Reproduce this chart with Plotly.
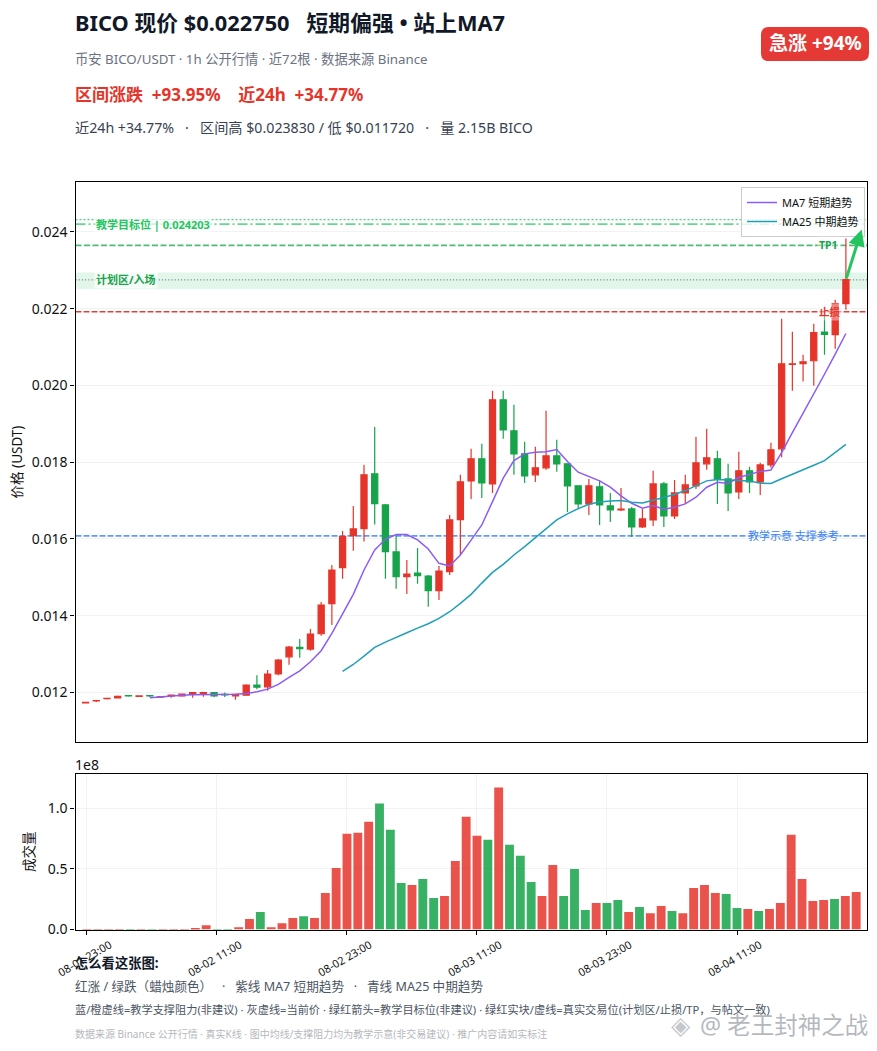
# BICO/USDT 1h candles with MA7, MA25, volume and teaching levels
import plotly.graph_objects as go

# page body keeps its default 8px margin
OFFSET = 8
W = 869
H = 1035

FONT = "Noto Sans, Noto Sans CJK SC, sans-serif"

# candle index 0..71, hourly from 08-01 23:00
candle_index = list(range(72))
opens = [
    0.01173, 0.01178, 0.01184, 0.01186, 0.01192, 0.01190, 0.01192, 0.01188, 0.01191, 0.01191,
    0.011948, 0.011974, 0.01200, 0.01195, 0.011913, 0.01193, 0.012191, 0.012148, 0.012487, 0.01293,
    0.013174, 0.01313, 0.01353, 0.014313, 0.015252, 0.016087, 0.01627, 0.017696, 0.016887, 0.015661,
    0.015017, 0.015113, 0.015035, 0.014652, 0.015148, 0.016504, 0.017513, 0.018087, 0.017435, 0.019626,
    0.018817, 0.018217, 0.01767, 0.017852, 0.018165, 0.017957, 0.017383, 0.016913, 0.017357, 0.016861,
    0.016757, 0.016783, 0.016313, 0.016496, 0.017435, 0.0166, 0.0172, 0.017383, 0.017957, 0.018087,
    0.017565, 0.017226, 0.017774, 0.017487, 0.01793, 0.018348, 0.02055, 0.02057, 0.020643, 0.02139,
    0.021322, 0.02213,
]
closes = [
    0.01174, 0.01179, 0.01185, 0.01190, 0.01191, 0.01191, 0.01191, 0.01189, 0.01193, 0.011955,
    0.01200, 0.01200, 0.011913, 0.01194, 0.01195, 0.012191, 0.012139, 0.012478, 0.012843, 0.013183,
    0.013139, 0.013522, 0.014278, 0.015191, 0.016061, 0.016261, 0.01767, 0.016922, 0.01567, 0.015017,
    0.015087, 0.015044, 0.014652, 0.015165, 0.016496, 0.017487, 0.018087, 0.017461, 0.019626, 0.018843,
    0.018217, 0.017643, 0.017852, 0.018165, 0.017957, 0.017383, 0.016913, 0.017383, 0.016887, 0.016757,
    0.01678, 0.016313, 0.016522, 0.017435, 0.0166, 0.0172, 0.017409, 0.017983, 0.018113, 0.017565,
    0.0172, 0.017774, 0.017487, 0.01793, 0.018322, 0.020565, 0.020565, 0.020617, 0.021374, 0.02133,
    0.02213, 0.022757,
]
highs = [
    0.01175, 0.0118, 0.01186, 0.01192, 0.01192, 0.01192, 0.01192, 0.0119, 0.01195, 0.01197,
    0.0120, 0.01202, 0.01201, 0.0120, 0.01197, 0.012217, 0.012452, 0.012583, 0.01287, 0.013209,
    0.013391, 0.013652, 0.014357, 0.015322, 0.016209, 0.016861, 0.017931, 0.01892, 0.016913, 0.016087,
    0.015452, 0.015765, 0.015061, 0.015296, 0.016626, 0.01767, 0.018348, 0.018478, 0.019861, 0.019861,
    0.019496, 0.01853, 0.0184, 0.019339, 0.018583, 0.017957, 0.017383, 0.017565, 0.017539, 0.0172,
    0.01733, 0.016835, 0.016783, 0.017774, 0.017487, 0.017539, 0.01767, 0.018661, 0.01887, 0.018296,
    0.017957, 0.01827, 0.017878, 0.017983, 0.018504, 0.021739, 0.0214, 0.0208, 0.021609, 0.021843,
    0.022235, 0.02383,
]
lows = [
    0.01172, 0.01175, 0.01182, 0.01185, 0.01189, 0.0119, 0.01188, 0.01187, 0.01186, 0.01189,
    0.011861, 0.01189, 0.01188, 0.01188, 0.01181, 0.011913, 0.012087, 0.012043, 0.012452, 0.012722,
    0.012904, 0.013087, 0.013478, 0.013757, 0.014965, 0.015696, 0.015931, 0.016374, 0.014965, 0.014704,
    0.014565, 0.014835, 0.014235, 0.014409, 0.015061, 0.015583, 0.017043, 0.01707, 0.0172, 0.018609,
    0.01767, 0.017461, 0.017487, 0.0178, 0.017748, 0.016704, 0.016774, 0.016626, 0.016365, 0.016443,
    0.01673, 0.016052, 0.016287, 0.016339, 0.016313, 0.016522, 0.016913, 0.017304, 0.0178, 0.016913,
    0.01673, 0.017043, 0.0172, 0.017148, 0.017852, 0.01813, 0.019861, 0.020104, 0.019991, 0.0208,
    0.020957, 0.021974,
]

# moving averages as drawn, MA7 starts at candle 6, MA25 at candle 24
ma7_index = list(range(6, 72))
ma7 = [
    0.011861, 0.011887, 0.011913, 0.01193, 0.011939, 0.011939, 0.011939, 0.011948, 0.011957, 0.011974,
    0.012017, 0.012087, 0.012209, 0.012391, 0.012565, 0.0128, 0.013087, 0.013539, 0.014061, 0.014557,
    0.015191, 0.015713, 0.015991, 0.016113, 0.016113, 0.015974, 0.015739, 0.015365, 0.015296, 0.015583,
    0.01597, 0.016365, 0.016974, 0.017583, 0.018043, 0.018217, 0.018261, 0.01827, 0.01833, 0.018017,
    0.017739, 0.017626, 0.017513, 0.017348, 0.017122, 0.01693, 0.0168, 0.01687, 0.016774, 0.016826,
    0.016913, 0.017087, 0.017348, 0.017478, 0.017443, 0.0176, 0.01768, 0.01776, 0.017795, 0.018248,
    0.01877, 0.019266, 0.019769, 0.020291, 0.020813, 0.021353,
]
ma25_index = list(range(24, 72))
ma25 = [
    0.012548, 0.01273, 0.012948, 0.013174, 0.013313, 0.013426, 0.013557, 0.013678, 0.013791, 0.01393,
    0.014104, 0.014322, 0.014557, 0.014850, 0.01513, 0.015339, 0.015583, 0.0158, 0.016035, 0.016278,
    0.016496, 0.016652, 0.016791, 0.016904, 0.016965, 0.016991, 0.0170, 0.016957, 0.016939, 0.017009,
    0.017078, 0.017157, 0.017261, 0.017391, 0.017513, 0.017548, 0.017539, 0.017539, 0.017513, 0.017452,
    0.017447, 0.01757, 0.01768, 0.0178, 0.01792, 0.01804, 0.01825, 0.018465,
]

# volume in units of 1e8
volumes = [
    0.0002, 0.0002, 0.0002, 0.0002, 0.0002, 0.0002, 0.0002, 0.0002, 0.0002, 0.0003,
    0.011, 0.036, 0.0005, 0.0005, 0.019, 0.086, 0.144, 0.019, 0.052, 0.094,
    0.11, 0.094, 0.301, 0.508, 0.79, 0.798, 0.889, 1.039, 0.823, 0.384,
    0.367, 0.417, 0.26, 0.276, 0.566, 0.931, 0.773, 0.74, 1.171, 0.699,
    0.608, 0.392, 0.276, 0.533, 0.276, 0.5, 0.16, 0.218, 0.218, 0.243,
    0.144, 0.185, 0.135, 0.193, 0.152, 0.135, 0.343, 0.367, 0.301, 0.293,
    0.177, 0.169, 0.152, 0.169, 0.218, 0.782, 0.417, 0.235, 0.243, 0.251,
    0.276, 0.309,
]

tick_index = [0, 12, 24, 36, 48, 60]
tick_labels = ["08-01 23:00", "08-02 11:00", "08-02 23:00", "08-03 11:00", "08-03 23:00", "08-04 11:00"]
price_ticks = [0.012, 0.014, 0.016, 0.018, 0.020, 0.022, 0.024]
volume_ticks = [0, 0.5, 1.0]

# teaching and trade levels
target_top = 0.02432
target_level = 0.024203
tp1_level = 0.02365
plan_low = 0.022504
plan_high = 0.022939
current_price = 0.02275
stop_level = 0.02192
support_level = 0.01608

RED = "#e5352b"
GREEN = "#16a34a"
NB = "\u00a0"


def px(x):
    return (x - OFFSET) / W


def py(y):
    return 1 - (y - OFFSET) / H


fig = go.Figure()

fig.add_trace(go.Candlestick(
    x=candle_index, open=opens, high=highs, low=lows, close=closes,
    increasing=dict(line=dict(color=RED, width=1.2), fillcolor=RED),
    decreasing=dict(line=dict(color=GREEN, width=1.2), fillcolor=GREEN),
    whiskerwidth=0, showlegend=False, xaxis="x", yaxis="y",
))
fig.add_trace(go.Scatter(
    x=ma7_index, y=ma7, mode="lines", name="MA7 短期趋势",
    line=dict(color="#8b5cf6", width=1.5), xaxis="x", yaxis="y",
))
fig.add_trace(go.Scatter(
    x=ma25_index, y=ma25, mode="lines", name="MA25 中期趋势",
    line=dict(color="#1f9fb8", width=1.5), xaxis="x", yaxis="y",
))
bar_colors = [RED if c >= o else GREEN for o, c in zip(opens, closes)]
fig.add_trace(go.Bar(
    x=candle_index, y=volumes, marker=dict(color=bar_colors, opacity=0.85, line=dict(width=0)),
    width=0.82, showlegend=False, xaxis="x2", yaxis="y2",
))


def level(y, color, dash, width=1.5):
    fig.add_shape(type="line", xref="x domain", yref="y", x0=0, x1=1, y0=y, y1=y,
                  line=dict(color=color, dash=dash, width=width), layer="below")


fig.add_shape(type="rect", xref="x domain", yref="y", x0=0, x1=1, y0=plan_low, y1=plan_high,
              fillcolor="rgba(34,197,94,0.13)", line=dict(width=0), layer="below")
level(target_top, "rgba(34,197,94,0.8)", "2px,2px", 1.3)
level(target_level, "rgba(34,197,94,0.7)", "10px,3px,2px,3px", 1.7)
level(tp1_level, "rgba(22,163,74,0.75)", "6px,2.5px", 1.7)
level(current_price, "#6b7280", "1.2px,2px", 1)
level(stop_level, "rgba(229,53,43,0.95)", "6px,2px", 1.7)
level(support_level, "rgba(59,130,246,0.8)", "6px,2px", 1.7)

# red badge top right, rounded corners
bx0, bx1, by0, by1 = px(761), px(869), py(61), py(27)
rx, ry = 8 / W, 8 / H
fig.add_shape(
    type="path", xref="paper", yref="paper", fillcolor="#e53935", line=dict(width=0),
    path=(f"M {bx0 + rx} {by0} L {bx1 - rx} {by0} Q {bx1} {by0} {bx1} {by0 + ry} "
          f"L {bx1} {by1 - ry} Q {bx1} {by1} {bx1 - rx} {by1} L {bx0 + rx} {by1} "
          f"Q {bx0} {by1} {bx0} {by1 - ry} L {bx0} {by0 + ry} Q {bx0} {by0} {bx0 + rx} {by0} Z"),
)


def page_text(x, y, text, size, color, bold=False, anchor="left", **kw):
    label = f"<b>{text}</b>" if bold else text
    fig.add_annotation(xref="paper", yref="paper", x=px(x - 2), y=py(y), text=label, showarrow=False,
                       xanchor=anchor, yanchor="middle", align="left",
                       font=dict(size=size, color=color, family=FONT), **kw)


def chart_text(x, y, text, color, size=11, bg="rgba(255,255,255,0.7)"):
    fig.add_annotation(xref="x", yref="y", x=x, y=y, text=f"<b>{text}</b>", showarrow=False,
                       xanchor="left", yanchor="middle", bgcolor=bg, borderpad=1,
                       font=dict(size=size, color=color, family=FONT))


chart_text(0.75, target_level, "教学目标位 | 0.024203", "#22c55e")
chart_text(0.75, current_price + 0.00002, "计划区/入场", GREEN)
chart_text(68.3, tp1_level, "TP1", GREEN, size=10.5, bg="rgba(255,255,255,0.4)")
chart_text(68.3, stop_level, "止损", RED, size=10.5, bg="rgba(255,255,255,0.4)")
fig.add_annotation(xref="x", yref="y", x=61.7, y=support_level, text="教学示意 支撑参考", showarrow=False,
                   xanchor="left", yanchor="middle", bgcolor="rgba(255,255,255,0.4)",
                   font=dict(size=11, color="#3b82f6", family=FONT))

# green arrow from last candle towards the target
fig.add_annotation(xref="x", yref="y", axref="x", ayref="y", x=72.47, y=0.02406, ax=71, ay=current_price,
                   text="", showarrow=True, arrowhead=2, arrowsize=1.1, arrowwidth=3, arrowcolor="#22c55e")

page_text(75, 23, f"BICO 现价 $0.022750{NB*3}短期偏强 • 站上MA7", 21.8, "#111827", bold=True)
page_text(75, 59, "币安 BICO/USDT · 1h 公开行情 · 近72根 · 数据来源 Binance", 13.3, "#6b7280")
page_text(75, 94, f"区间涨跌{NB*2}+93.95%{NB*4}近24h{NB*2}+34.77%", 17, RED, bold=True)
page_text(75, 128, f"近24h +34.77%{NB*3}·{NB*3}区间高 $0.023830 / 低 $0.011720{NB*3}·{NB*3}量 2.15B BICO",
          14.2, "#374151")
page_text(817, 43, "急涨 +94%", 19, "#ffffff", bold=True, anchor="center")

page_text(75, 764, "1e8", 14, "#111111")

page_text(75, 963, "怎么看这张图:", 13.3, "#111827", bold=True)
page_text(75, 986, f"红涨 / 绿跌（蜡烛颜色）{NB*3}·{NB*3}紫线 MA7 短期趋势{NB*3}·{NB*3}青线 MA25 中期趋势", 12.6, "#4b5563")
page_text(75, 1009, "蓝/橙虚线=教学支撑阻力(非建议) · 灰虚线=当前价 · 绿红箭头=教学目标位(非建议) · 绿红实块/虚线=真实交易位(计划区/止损/TP，与帖文一致)",
          11.2, "#4b5563")
page_text(75, 1034, "数据来源 Binance 公开行情 · 真实K线 · 图中均线/支撑阻力均为教学示意(非交易建议) · 推广内容请如实标注",
          10, "#b5b8bd")
page_text(683, 1024, "◈", 25, "rgba(140,145,155,0.5)", anchor="center")
page_text(872, 1025, "@ 老王封神之战", 23.5, "rgba(130,135,145,0.6)", anchor="right")

axis_line = dict(showline=True, linecolor="#000000", linewidth=1.2, mirror=True, automargin=False)
fig.update_layout(
    width=W, height=H, margin=dict(l=0, r=0, t=0, b=0), autosize=False,
    paper_bgcolor="#ffffff", plot_bgcolor="#ffffff",
    font=dict(family=FONT, size=14, color="#111111"),
    boxgap=0.18,
    bargap=0.18,
    legend=dict(x=px(741), y=py(187), xanchor="left", yanchor="top", bgcolor="rgba(255,255,255,0.8)",
                bordercolor="#cccccc", borderwidth=1, font=dict(size=11, family=FONT), tracegroupgap=0),
    xaxis=dict(domain=[px(75.5), px(867)], range=[-0.94, 72.97], showgrid=False, showticklabels=False,
               ticks="", zeroline=False, rangeslider=dict(visible=False), anchor="y", **axis_line),
    yaxis=dict(domain=[py(742), py(182)], range=[0.01071, 0.0253], tickvals=price_ticks, tickformat=".3f",
               ticks="outside", ticklen=4, tickcolor="#000000", gridcolor="#f2f2f2", zeroline=False, anchor="x",
               title=dict(text="价格 (USDT)", font=dict(size=13.5, family=FONT), standoff=10), **axis_line),
    xaxis2=dict(domain=[px(75.5), px(867)], range=[-1.06, 72.0], tickvals=tick_index, ticktext=tick_labels,
                tickangle=-30, tickfont=dict(size=11, family=FONT), ticks="outside", ticklen=4,
                tickcolor="#000000", gridcolor="#f2f2f2", zeroline=False, anchor="y2", ticklabelshift=23, **axis_line),
    yaxis2=dict(domain=[py(929.5), py(774)], range=[0, 1.283], tickvals=volume_ticks, tickformat=".1f",
                ticks="outside", ticklen=4, tickcolor="#000000", gridcolor="#f2f2f2", zeroline=False, anchor="x2",
                title=dict(text="成交量", font=dict(size=13.5, family=FONT), standoff=10), **axis_line),
)

fig.write_html("out.html")
